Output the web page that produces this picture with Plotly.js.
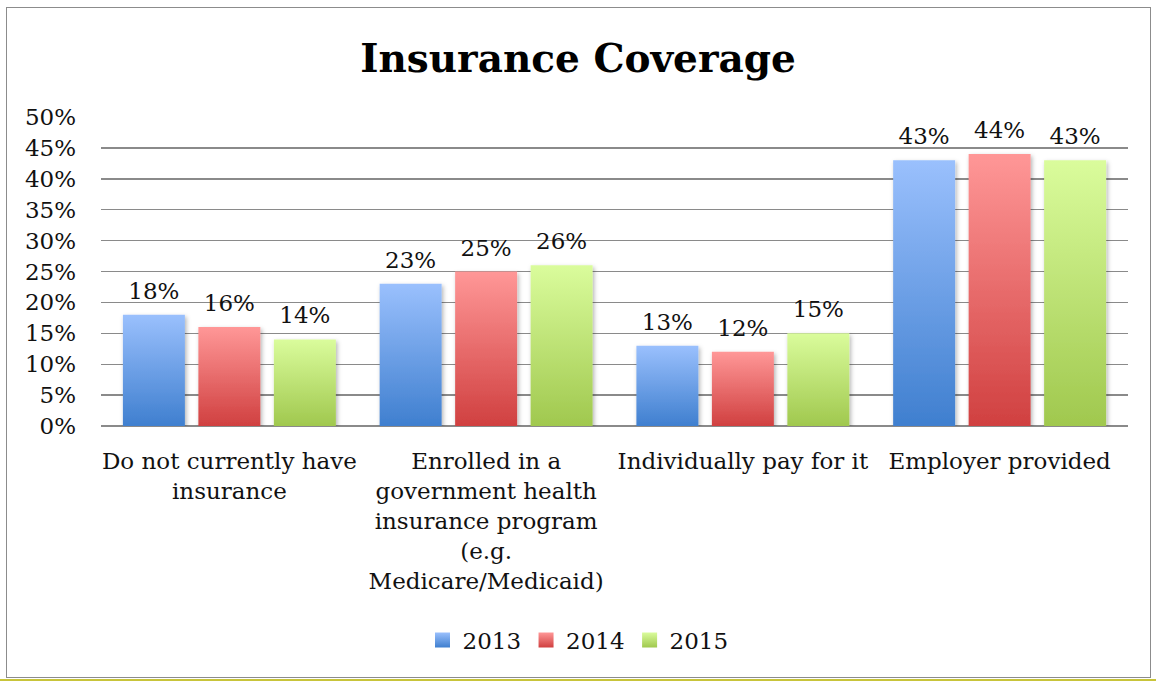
<!DOCTYPE html>
<html>
<head>
<meta charset="utf-8">
<script src="https://cdn.plot.ly/plotly-3.0.1.min.js"></script>
<style>
  html, body { margin: 0; padding: 0; background: #fff; }
  body { width: 1156px; height: 681px; position: relative; overflow: hidden; }
  #frame { position: absolute; left: 6px; top: 7px; width: 1145px; height: 671px; border: 1.5px solid #8c8c8c; box-sizing: border-box; }
  #bottomline { position: absolute; left: 0; top: 679px; width: 1156px; height: 2px; background: #c8c43a; }
  #chart { position: absolute; left: 0; top: 0; width: 1156px; height: 681px; }
</style>
</head>
<body>
<div id="frame"></div>
<div id="bottomline"></div>
<div id="chart"></div>
<script>
const categories = [
  "Do not currently have<br>insurance",
  "Enrolled in a<br>government health<br>insurance program<br>(e.g.<br>Medicare/Medicaid)",
  "Individually pay for it",
  "Employer provided"
];
const seriesNames = ["2013", "2014", "2015"];
const values2013 = [18, 23, 13, 43];
const values2014 = [16, 25, 12, 44];
const values2015 = [14, 26, 15, 43];
const yTickVals = [0, 5, 10, 15, 20, 25, 30, 35, 40, 45, 50];
const yTickText = ["0%", "5%", "10%", "15%", "20%", "25%", "30%", "35%", "40%", "45%", "50%"];

const topColors = ["#9AC0FD", "#FF9797", "#DAFC9C"];
const bottomColors = ["#3F7FCF", "#D04040", "#A0C84E"];
const seriesValues = [values2013, values2014, values2015];

const FONT = "DejaVu Serif, serif";
const FS = 23;

const traces = seriesNames.map((name, i) => ({
  type: "bar",
  name: name,
  x: categories,
  y: seriesValues[i],
  text: seriesValues[i].map(v => v + "%"),
  textposition: "outside",
  cliponaxis: false,
  textfont: { family: FONT, size: FS, color: "#111" },
  marker: { color: bottomColors[i], line: { width: 0 } },
  hoverinfo: "none"
}));

const layout = {
  width: 1156,
  height: 681,
  paper_bgcolor: "rgba(0,0,0,0)",
  plot_bgcolor: "rgba(0,0,0,0)",
  margin: { l: 101, r: 28, t: 117, b: 255 },
  barmode: "group",
  bargap: 0.118,
  bargroupgap: 0.179,
  font: { family: FONT, size: FS, color: "#111" },
  title: {
    text: "<b>Insurance Coverage</b>",
    font: { family: FONT, size: 39, color: "#000" },
    xref: "container", x: 0.5, xanchor: "center",
    yref: "container", y: 1 - 58 / 681, yanchor: "middle"
  },
  xaxis: {
    type: "category",
    showgrid: false,
    showline: false,
    zeroline: false,
    ticks: "",
    tickfont: { family: FONT, size: FS, color: "#111" },
    ticklabelstandoff: 19
  },
  yaxis: {
    range: [0, 50],
    tickvals: yTickVals,
    ticktext: yTickText,
    showgrid: true,
    gridcolor: "#8a8a8a",
    gridwidth: 1.4,
    zeroline: true,
    zerolinecolor: "#8a8a8a",
    zerolinewidth: 1.4,
    showline: false,
    ticks: "",
    tickfont: { family: FONT, size: FS, color: "#111" },
    ticklabelstandoff: 24
  },
  showlegend: true,
  legend: {
    orientation: "h",
    xref: "container", x: 0.5, xanchor: "center",
    yref: "container", y: 1 - 640 / 681, yanchor: "middle",
    font: { family: FONT, size: FS, color: "#111" },
    itemwidth: 30,
    bgcolor: "rgba(0,0,0,0)"
  }
};

Plotly.newPlot("chart", traces, layout, { staticPlot: true, displayModeBar: false }).then(gd => {
  const svg = gd.querySelector("svg.main-svg");
  const ns = "http://www.w3.org/2000/svg";
  let defs = svg.querySelector("defs");
  if (!defs) { defs = document.createElementNS(ns, "defs"); svg.insertBefore(defs, svg.firstChild); }
  topColors.forEach((c, i) => {
    const g = document.createElementNS(ns, "linearGradient");
    g.setAttribute("id", "grad" + i);
    g.setAttribute("x1", "0"); g.setAttribute("y1", "0");
    g.setAttribute("x2", "0"); g.setAttribute("y2", "1");
    const s1 = document.createElementNS(ns, "stop");
    s1.setAttribute("offset", "0"); s1.setAttribute("stop-color", c);
    const s2 = document.createElementNS(ns, "stop");
    s2.setAttribute("offset", "1"); s2.setAttribute("stop-color", bottomColors[i]);
    g.appendChild(s1); g.appendChild(s2);
    defs.appendChild(g);
  });
  const f = document.createElementNS(ns, "filter");
  f.setAttribute("id", "barshadow");
  f.setAttribute("x", "-20%"); f.setAttribute("y", "-10%");
  f.setAttribute("width", "150%"); f.setAttribute("height", "130%");
  const ds = document.createElementNS(ns, "feDropShadow");
  ds.setAttribute("dx", "1.5"); ds.setAttribute("dy", "2");
  ds.setAttribute("stdDeviation", "2"); ds.setAttribute("flood-color", "#000");
  ds.setAttribute("flood-opacity", "0.3");
  f.appendChild(ds);
  defs.appendChild(f);

  gd.querySelectorAll(".barlayer .trace").forEach((tr, i) => {
    tr.querySelectorAll(".point path").forEach(p => {
      p.style.fill = "url(#grad" + i + ")";
      p.setAttribute("filter", "url(#barshadow)");
    });
    tr.querySelectorAll(".point text").forEach(t => {
      const tf = t.getAttribute("transform") || "";
      t.setAttribute("transform", "translate(0,-8) " + tf);
    });
  });
  gd.querySelectorAll(".legend .traces").forEach((tr, i) => {
    tr.querySelectorAll(".legendpoints path").forEach(p => {
      p.setAttribute("d", "M7.5,7.5H-7.5V-7.5H7.5Z");
      p.style.fill = "url(#grad" + i + ")";
    });
  });
});
</script>
</body>
</html>
